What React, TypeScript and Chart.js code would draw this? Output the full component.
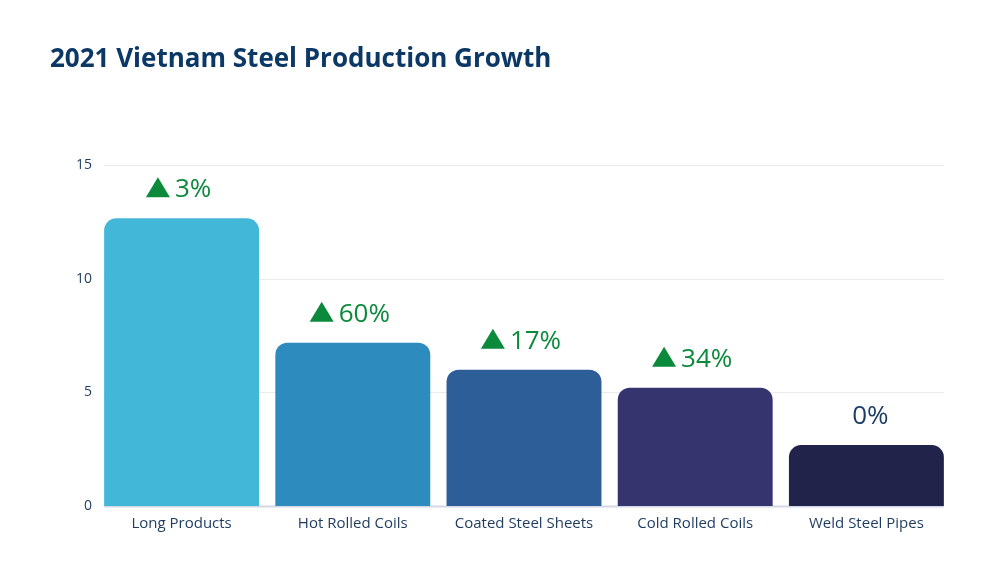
import React, { useEffect, useRef } from "react";
import { Chart, registerables } from "chart.js";

Chart.register(...registerables);

const categories = ["Long Products", "Hot Rolled Coils", "Coated Steel Sheets", "Cold Rolled Coils", "Weld Steel Pipes"];
const production = [12.66, 7.19, 6.0, 5.2, 2.68];
const growth = [3, 60, 17, 34, 0];
const barColors = ["#42b7d7", "#2d8bbd", "#2e5e98", "#35346f", "#21234a"];
const yTicks = [0, 5, 10, 15];

const FONT = "'Open Sans', 'Noto Sans', sans-serif";
const NAVY = "#1d3a5f";
const GREEN = "#0b8a3c";

const gridPlugin = {
  id: "customGrid",
  beforeDatasetsDraw(chart: any) {
    const meta = chart.getDatasetMeta(0);
    const first = meta.data[0];
    const last = meta.data[meta.data.length - 1];
    const x0 = first.x - first.width / 2;
    const x1 = last.x + last.width / 2;
    const y = chart.scales.y;
    const ctx = chart.ctx;
    ctx.save();
    yTicks.forEach((v) => {
      const py = Math.round(y.getPixelForValue(v)) + 0.5;
      ctx.beginPath();
      ctx.strokeStyle = v === 0 ? "#d4d7e6" : "#ebebeb";
      ctx.lineWidth = v === 0 ? 2 : 1;
      ctx.moveTo(x0, py);
      ctx.lineTo(x1, py);
      ctx.stroke();
    });
    ctx.restore();
  },
};

const labelPlugin = {
  id: "growthLabels",
  afterDatasetsDraw(chart: any) {
    const meta = chart.getDatasetMeta(0);
    const ctx = chart.ctx;
    ctx.save();
    ctx.font = `26px ${FONT}`;
    ctx.textBaseline = "alphabetic";
    meta.data.forEach((bar: any, i: number) => {
      const g = growth[i];
      const text = `${g}%`;
      const baseY = bar.y - 21;
      const tw = ctx.measureText(text).width;
      if (g > 0) {
        const triW = 24;
        const triH = 20;
        const gap = 5;
        const total = triW + gap + tw;
        const left = bar.x - total / 2 - 3;
        ctx.fillStyle = GREEN;
        ctx.beginPath();
        ctx.moveTo(left, baseY);
        ctx.lineTo(left + triW, baseY);
        ctx.lineTo(left + triW / 2, baseY - triH);
        ctx.closePath();
        ctx.fill();
        ctx.textAlign = "left";
        ctx.fillText(text, left + triW + gap, baseY);
      } else {
        ctx.fillStyle = "#1c3d66";
        ctx.textAlign = "center";
        ctx.fillText(text, bar.x + 4, baseY);
      }
    });
    ctx.restore();
  },
};

export default function App() {
  const ref = useRef<HTMLCanvasElement | null>(null);

  useEffect(() => {
    document.body.style.margin = "0";
    if (!ref.current) return;
    const chart = new Chart(ref.current, {
      type: "bar",
      data: {
        labels: categories,
        datasets: [
          {
            data: production,
            backgroundColor: barColors,
            borderRadius: 12,
            borderSkipped: "start",
            categoryPercentage: 1,
            barPercentage: 0.905,
          },
        ],
      },
      options: {
        responsive: false,
        animation: false,
        layout: { padding: { left: 50, right: 48, top: 0, bottom: 0 } },
        plugins: {
          legend: { display: false },
          tooltip: { enabled: false },
          title: {
            display: true,
            text: "2021 Vietnam Steel Production Growth",
            align: "start",
            color: "#0c3866",
            font: { family: FONT, size: 26, weight: "bold" },
            padding: { top: 43.5, bottom: 90.5 },
          },
        },
        scales: {
          x: {
            grid: { display: false, drawTicks: false },
            border: { display: false },
            ticks: { color: NAVY, font: { family: FONT, size: 15 }, padding: 9 },
            afterFit(scale: any) {
              scale.height = 56;
            },
          },
          y: {
            min: 0,
            max: 15,
            grid: { display: false, drawTicks: false },
            border: { display: false },
            afterBuildTicks(scale: any) {
              scale.ticks = yTicks.map((v) => ({ value: v }));
            },
            ticks: { color: NAVY, font: { family: FONT, size: 14 }, padding: 4 },
            afterFit(scale: any) {
              scale.width = 46;
            },
          },
        },
      },
      plugins: [gridPlugin, labelPlugin],
    } as any);
    return () => chart.destroy();
  }, []);

  return (
    <div style={{ position: "relative", width: 1000, height: 562, background: "#ffffff" }}>
      <canvas ref={ref} width={1000} height={562} style={{ display: "block", width: 1000, height: 562 }} />
    </div>
  );
}
